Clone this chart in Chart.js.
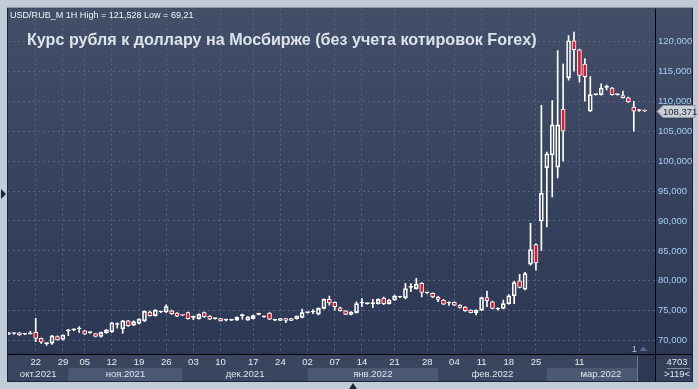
<!DOCTYPE html>
<html>
<head>
<meta charset="utf-8">
<title>USD/RUB_M</title>
<script src="https://cdn.jsdelivr.net/npm/chart.js@4.4.1/dist/chart.umd.min.js"></script>
<style>
  html, body { margin: 0; padding: 0; background: #c2ccd8; }
  canvas { display: block; }
</style>
</head>
<body>
<canvas id="chart" width="698" height="389"></canvas>
<script>
// daily candles, index 0 = first visible bar (partly cut at the left edge)
const opens = [
  71.1, 71.2, 71.3, 71.1, 71.15, 71.4, 70.4, 69.5, 69.6, 70.7,
  70.2, 71.65, 71.8, 71.95, 71.65, 71.35, 71.2, 70.7, 71.3, 71.5,
  72.7, 72.0, 73.3, 72.6, 72.9, 73.3, 74.8, 74.2, 74.8, 74.8,
  75.0, 74.6, 74.3, 74.7, 73.9, 73.7, 74.7, 74.1, 73.7, 73.7,
  73.45, 73.45, 73.45, 74.2, 73.45, 73.7, 74.4, 74.0, 74.6, 73.45,
  73.4, 73.7, 73.4, 73.7, 73.9, 74.7, 74.8, 74.45, 75.4, 76.9,
  76.4, 75.5, 75.0, 74.4, 74.7, 76.3, 76.2, 76.2, 76.2, 77.1,
  76.2, 76.8, 77.3, 77.2, 78.9, 78.7, 79.6, 78.0, 77.9, 77.3,
  76.8, 76.3, 76.4, 75.95, 75.6, 75.1, 74.7, 75.1, 77.2, 76.5,
  75.3, 75.4, 76.2, 77.5, 80.0, 78.6, 82.8, 86.05, 90.0, 98.9,
  101.05, 99.0, 108.7, 113.9, 120.1, 118.6, 116.2, 108.35, 111.1, 111.1,
  112.3, 112.2, 111.1, 110.95, 110.55, 109.0, 108.45, 108.4
];
const highs = [
  71.4, 71.3, 71.35, 71.2, 71.55, 73.73, 70.45, 69.7, 70.9, 70.8,
  71.0, 71.9, 72.0, 72.35, 71.75, 71.5, 71.25, 71.45, 71.85, 73.05,
  73.0, 73.4, 73.4, 73.3, 73.7, 75.0, 74.95, 75.2, 74.95, 76.0,
  75.1, 74.7, 74.4, 74.8, 74.1, 74.5, 74.8, 74.2, 73.8, 73.75,
  73.6, 73.55, 74.0, 74.45, 74.05, 74.3, 74.6, 74.1, 74.7, 73.55,
  73.75, 73.75, 73.75, 74.15, 75.3, 74.8, 75.2, 75.5, 77.0, 77.45,
  76.5, 75.6, 75.05, 74.85, 76.5, 77.05, 76.3, 76.9, 77.0, 77.3,
  76.9, 77.6, 77.4, 79.6, 79.55, 80.4, 79.7, 78.1, 78.0, 77.4,
  76.9, 76.5, 76.5, 76.05, 75.7, 75.15, 75.15, 77.3, 78.3, 76.6,
  75.5, 76.8, 77.7, 79.9, 81.1, 81.4, 89.6, 86.2, 109.3, 101.5,
  110.1, 118.45, 116.2, 120.95, 121.528, 118.7, 117.1, 114.1, 111.2, 112.9,
  112.7, 112.3, 111.2, 111.7, 110.7, 110.0, 108.6, 108.55
];
const lows = [
  71.0, 71.1, 70.9, 71.0, 71.1, 69.85, 69.55, 69.21, 69.4, 70.1,
  70.1, 70.85, 71.65, 71.4, 71.05, 71.2, 70.65, 70.6, 71.2, 71.4,
  72.1, 71.2, 72.4, 72.5, 72.8, 73.2, 74.1, 74.1, 74.7, 74.7,
  74.4, 74.0, 74.2, 73.6, 73.5, 73.6, 73.9, 73.5, 73.6, 73.25,
  73.3, 73.35, 73.4, 73.6, 73.4, 73.6, 74.3, 73.9, 73.5, 73.35,
  73.35, 73.0, 73.35, 73.6, 73.8, 74.6, 74.5, 74.3, 75.3, 75.95,
  75.1, 74.95, 74.35, 74.3, 74.6, 75.7, 76.1, 75.5, 76.1, 76.0,
  76.1, 76.7, 77.2, 77.0, 78.2, 78.6, 77.3, 77.9, 77.2, 76.5,
  76.0, 75.9, 75.85, 75.45, 74.9, 74.65, 74.3, 75.0, 75.7, 75.3,
  75.1, 75.3, 76.1, 76.2, 78.8, 78.5, 82.6, 81.8, 85.1, 89.0,
  94.0, 97.2, 100.0, 113.5, 115.0, 113.2, 110.0, 108.3, 111.0, 111.0,
  111.9, 111.0, 111.0, 110.5, 109.8, 105.0, 108.3, 108.25
];
const closes = [
  71.3, 71.2, 70.95, 71.1, 71.2, 70.4, 69.75, 69.55, 70.8, 70.15,
  70.95, 71.7, 71.8, 72.0, 71.1, 71.35, 70.7, 71.4, 71.8, 73.0,
  72.7, 73.3, 72.5, 73.2, 73.6, 74.9, 74.2, 75.1, 74.8, 75.7,
  74.5, 74.1, 74.25, 73.7, 73.9, 74.4, 74.0, 73.6, 73.7, 73.3,
  73.45, 73.45, 73.9, 74.2, 74.0, 74.2, 74.4, 74.0, 73.6, 73.45,
  73.7, 73.4, 73.7, 74.1, 74.7, 74.7, 74.8, 75.4, 76.9, 76.3,
  75.7, 75.0, 74.4, 74.8, 76.2, 76.3, 76.2, 76.2, 76.9, 76.2,
  76.8, 77.45, 77.3, 78.7, 78.9, 79.45, 78.05, 78.0, 77.3, 76.9,
  76.1, 76.3, 75.95, 75.56, 75.0, 74.7, 75.1, 77.2, 76.7, 75.4,
  75.3, 76.2, 77.5, 79.7, 78.9, 81.2, 85.2, 83.0, 94.6, 101.2,
  106.05, 106.05, 105.0, 120.1, 118.6, 114.3, 114.1, 111.1, 111.1, 112.2,
  112.3, 111.1, 111.1, 110.6, 109.9, 108.35, 108.45, 108.371
];

const dayLabels = ['22', '29', '05', '12', '19', '26', '03', '10', '17', '24',
                   '02', '07', '14', '21', '28', '04', '11', '18', '25', '11'];
const dayIdx = [5, 10, 14, 19, 24, 29, 34, 39, 45, 50,
                55, 60, 65, 71, 77, 82, 87, 92, 97, 105];

const monthNames = ['окт.2021', 'ноя.2021', 'дек.2021', 'янв.2022', 'фев.2022', 'мар.2022'];
const monthStart = [0, 11, 32, 55, 79, 99];

const yTicks = [70, 75, 80, 85, 90, 95, 100, 105, 110, 115, 120];

const FONT = "'Liberation Sans', Arial, sans-serif";
const RED = '#e8132e';
const UP_FILL = 'rgba(0,0,0,0)';

const bodies = opens.map((o, i) => ({ x: i, y: [Math.min(o, closes[i]), Math.max(o, closes[i])] }));
const upperWicks = opens.map((o, i) => ({ x: i, y: [Math.max(o, closes[i]), highs[i]] }));
const lowerWicks = opens.map((o, i) => ({ x: i, y: [lows[i], Math.min(o, closes[i])] }));
const bodyFill = opens.map((o, i) => closes[i] < o ? RED : UP_FILL);

function fitFont(ctx, text, weight, width) {
  ctx.font = weight + ' 100px ' + FONT;
  return 100 * width / ctx.measureText(text).width;
}

/* backgrounds, panels and month bands (under the axes) */
const framePlugin = {
  id: 'frame',
  beforeDraw(chart) {
    const { ctx, chartArea: a, scales: { x } } = chart;
    const R = 692, B = 381, bandTop = 368;
    ctx.save();
    ctx.fillStyle = '#c2ccd8';
    ctx.fillRect(0, 0, chart.width, chart.height);

    const g = ctx.createLinearGradient(0, a.top, 0, a.bottom);
    g.addColorStop(0, '#434f69');
    g.addColorStop(1, '#2c3853');
    ctx.fillStyle = g;
    ctx.fillRect(a.left, a.top, R - a.left, a.bottom - a.top);

    ctx.fillStyle = '#3a4660';
    ctx.fillRect(a.left, a.bottom, R - a.left, B - a.bottom);

    monthStart.forEach((s, i) => {
      const x0 = i === 0 ? a.left : x.getPixelForValue(s);
      const x1 = i === monthStart.length - 1 ? a.right : x.getPixelForValue(monthStart[i + 1]);
      ctx.fillStyle = i % 2 ? '#4b5873' : '#3a4660';
      ctx.fillRect(x0, bandTop, x1 - x0, B - bandTop);
    });

    // scroll thumb at the right end of the time strip
    ctx.fillStyle = '#2d3852';
    ctx.fillRect(637, a.bottom, a.right - 637, B - a.bottom);
    ctx.fillStyle = '#6d7990';
    ctx.fillRect(637, a.bottom + 2, 1, B - a.bottom - 2);

    ctx.fillStyle = '#34405a';
    ctx.fillRect(a.right, a.bottom, R - a.right, B - a.bottom);

    ctx.strokeStyle = '#1d2637';
    ctx.lineWidth = 1;
    ctx.strokeRect(a.left - 0.5, a.top - 0.5, R - a.left + 1, B - a.top + 1);
    ctx.strokeStyle = '#000';
    ctx.beginPath();
    ctx.moveTo(a.right + 0.5, a.top);
    ctx.lineTo(a.right + 0.5, B);
    ctx.moveTo(a.left, a.bottom + 0.5);
    ctx.lineTo(R, a.bottom + 0.5);
    ctx.stroke();
    ctx.restore();
  },

  afterDraw(chart) {
    const { ctx, chartArea: a, scales: { x, y } } = chart;
    ctx.save();

    // month names
    ctx.font = '9.5px ' + FONT;
    ctx.fillStyle = '#dfe5ee';
    ctx.textAlign = 'center';
    ctx.textBaseline = 'middle';
    monthStart.forEach((s, i) => {
      const x0 = i === 0 ? a.left : x.getPixelForValue(s);
      const x1 = i === monthStart.length - 1 ? a.right : x.getPixelForValue(monthStart[i + 1]);
      ctx.fillText(monthNames[i], (x0 + x1) / 2, 374.5);
    });

    // counters in the corner cell
    ctx.fillText('4703', 677, 362);
    ctx.fillText('>119<', 677, 374.5);
    ctx.fillStyle = '#7f8ba0';
    ctx.fillRect(667, 368, 23, 1);

    // marker "1" and its arrow
    ctx.fillStyle = '#9cc6f0';
    ctx.fillText('1', 634.5, 349);
    ctx.fillStyle = '#5d6982';
    ctx.beginPath();
    ctx.moveTo(643.5, 346.5);
    ctx.lineTo(647.5, 351);
    ctx.lineTo(639.5, 351);
    ctx.fill();

    // last price tag
    const last = closes[closes.length - 1];
    const py = Math.round(y.getPixelForValue(last)) + 0.5;
    ctx.beginPath();
    ctx.moveTo(657, py);
    ctx.lineTo(663, py - 6);
    ctx.lineTo(695, py - 6);
    ctx.lineTo(695, py + 6);
    ctx.lineTo(663, py + 6);
    ctx.closePath();
    ctx.fillStyle = '#c9ced7';
    ctx.fill();
    ctx.strokeStyle = '#8c95a5';
    ctx.stroke();
    ctx.fillStyle = '#1c2434';
    ctx.textAlign = 'left';
    ctx.fillText(last.toFixed(3).replace('.', ','), 663, py + 0.5);

    // small frame arrows
    ctx.fillStyle = '#1e2533';
    ctx.beginPath();
    ctx.moveTo(1, 189); ctx.lineTo(6, 194); ctx.lineTo(1, 199);
    ctx.fill();
    ctx.beginPath();
    ctx.moveTo(353, 383); ctx.lineTo(357, 389); ctx.lineTo(349, 389);
    ctx.fill();

    // headers
    const sub = 'USD/RUB_M 1H High = 121,528 Low = 69,21';
    ctx.font = fitFont(ctx, sub, 'normal', 184) + 'px ' + FONT;
    ctx.fillStyle = '#f2f4f8';
    ctx.fillText(sub, 10, 15.5);

    const title = 'Курс рубля к доллару на Мосбирже (без учета котировок Forex)';
    ctx.font = 'bold ' + fitFont(ctx, title, 'bold', 510) + 'px ' + FONT;
    ctx.fillStyle = '#dde2ea';
    ctx.fillText(title, 27, 40.5);
    ctx.restore();
  }
};

new Chart(document.getElementById('chart'), {
  type: 'bar',
  data: {
    datasets: [
      {
        label: 'body',
        data: bodies,
        backgroundColor: bodyFill,
        borderColor: '#ffffff',
        borderWidth: 1,
        borderSkipped: false,
        barThickness: 4,
        minBarLength: 1,
        grouped: false
      },
      {
        label: 'upper',
        data: upperWicks,
        backgroundColor: '#ffffff',
        borderWidth: 0,
        barThickness: 1,
        grouped: false
      },
      {
        label: 'lower',
        data: lowerWicks,
        backgroundColor: '#ffffff',
        borderWidth: 0,
        barThickness: 1,
        grouped: false
      }
    ]
  },
  options: {
    responsive: false,
    animation: false,
    layout: { padding: { left: 8, top: 8, right: 0, bottom: 0 } },
    plugins: {
      legend: { display: false },
      tooltip: { enabled: false }
    },
    scales: {
      x: {
        type: 'linear',
        offset: false,
        min: -0.1,
        max: 118.9,
        afterBuildTicks: axis => { axis.ticks = dayIdx.map(v => ({ value: v })); },
        afterFit: axis => { axis.height = 35; },
        ticks: {
          autoSkip: false,
          maxRotation: 0,
          padding: 3,
          color: '#e6eaf0',
          font: { family: FONT, size: 9.5 },
          callback: v => dayLabels[dayIdx.indexOf(v)]
        },
        grid: { color: '#58647e', drawTicks: false, offset: false },
        border: { display: false, dash: [2, 3] }
      },
      y: {
        position: 'right',
        min: 67.78,
        max: 125.45,
        afterBuildTicks: axis => { axis.ticks = yTicks.map(v => ({ value: v })); },
        afterFit: axis => { axis.width = 43; },
        ticks: {
          padding: 3,
          color: '#a6cdf4',
          font: { family: FONT, size: 9.5 },
          callback: v => v.toFixed(3).replace('.', ',')
        },
        grid: { color: '#58647e', drawTicks: false },
        border: { display: false, dash: [2, 3] }
      }
    }
  },
  plugins: [framePlugin]
});
</script>
</body>
</html>
